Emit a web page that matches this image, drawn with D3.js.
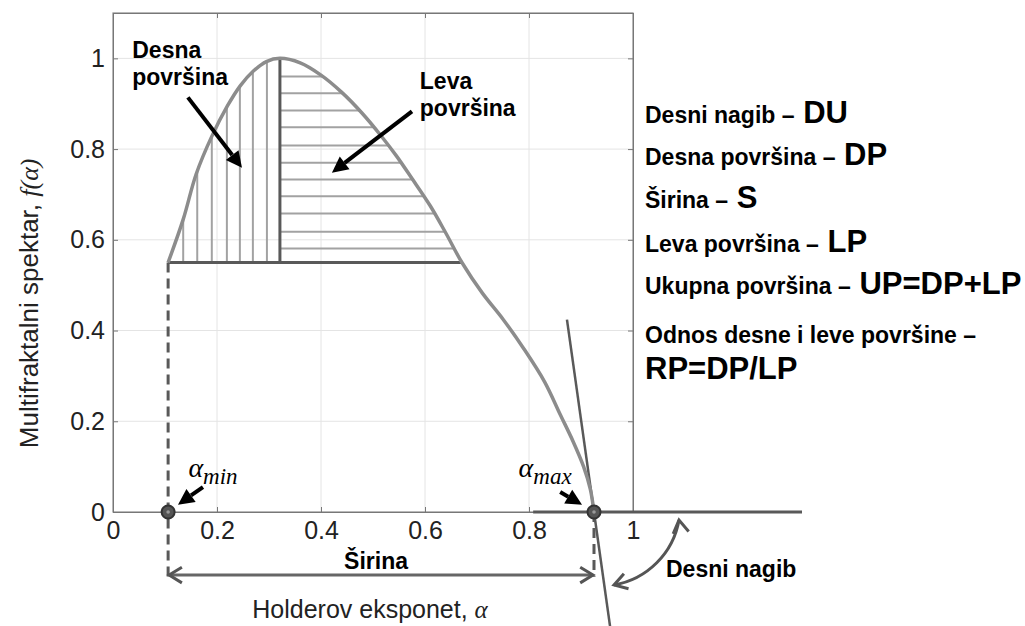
<!DOCTYPE html>
<html>
<head>
<meta charset="utf-8">
<script src="https://cdn.jsdelivr.net/npm/d3@7"></script>
<style>
  body { margin: 0; background: #fff; }
  text { font-family: 'Liberation Sans', Arial, sans-serif; }
</style>
</head>
<body>
<div id="vis"></div>
<script>
// multifractal spectrum f(alpha)
const alphaVals = [0.106, 0.135, 0.16, 0.19, 0.22, 0.245, 0.27, 0.295, 0.321,
  0.36, 0.40, 0.44, 0.48, 0.515, 0.545, 0.575, 0.61, 0.64, 0.671,
  0.71, 0.75, 0.79, 0.83, 0.86, 0.885, 0.905, 0.918, 0.925]
const fVals = [0.55, 0.645, 0.745, 0.828, 0.895, 0.94, 0.972, 0.993, 1.0,
  0.99, 0.963, 0.925, 0.878, 0.83, 0.785, 0.735, 0.675, 0.615, 0.55,
  0.483, 0.425, 0.36, 0.287, 0.215, 0.155, 0.1, 0.05, 0.0]

// key points of the spectrum
const alphaMin = 0.106
const alphaPeak = 0.321
const alphaMax = 0.925
const fBase = 0.55

// hatching of the two areas
const vHatchAlpha = [0.135, 0.162, 0.19, 0.219, 0.244, 0.269, 0.296]
const hHatchF = [0.96, 0.923, 0.885, 0.848, 0.808, 0.77, 0.733, 0.696, 0.658, 0.618, 0.581]

// axes
const xTicks = [0, 0.2, 0.4, 0.6, 0.8, 1]
const yTicks = [0, 0.2, 0.4, 0.6, 0.8, 1]

// right hand legend
const legendNames = ['Desni nagib', 'Desna površina', 'Širina', 'Leva površina', 'Ukupna površina', 'Odnos desne i leve površine']
const legendCodes = ['DU', 'DP', 'S', 'LP', 'UP=DP+LP', 'RP=DP/LP']

const W = 1025, H = 626
const x = d3.scaleLinear().domain([0, 1]).range([113, 633])
const y = d3.scaleLinear().domain([0, 1.1]).range([512, 13])

const svg = d3.select('#vis').append('svg').attr('width', W).attr('height', H)

// grid
const grid = svg.append('g').attr('stroke', '#e4e4e4').attr('stroke-width', 1)
grid.selectAll('.gx').data(xTicks.slice(1, -1)).enter().append('line')
  .attr('x1', d => x(d)).attr('x2', d => x(d)).attr('y1', y(0)).attr('y2', y(1.1))
grid.selectAll('.gy').data(yTicks.slice(1)).enter().append('line')
  .attr('x1', x(0)).attr('x2', x(1)).attr('y1', d => y(d)).attr('y2', d => y(d))

// box and axes
svg.append('rect').attr('x', x(0)).attr('y', y(1.1)).attr('width', x(1) - x(0)).attr('height', y(0) - y(1.1))
  .attr('fill', 'none').attr('stroke', '#8a8a8a').attr('stroke-width', 1.2)

const fmt = d3.format('~g')
svg.append('g').attr('transform', 'translate(0,' + y(0) + ')')
  .call(d3.axisBottom(x).tickValues(xTicks).tickFormat(fmt).tickSizeInner(-5).tickSizeOuter(0).tickPadding(9))
svg.append('g').attr('transform', 'translate(' + x(0) + ',0)')
  .call(d3.axisLeft(y).tickValues(yTicks).tickFormat(fmt).tickSizeInner(-5).tickSizeOuter(0).tickPadding(8))
svg.append('g').attr('transform', 'translate(' + x(1) + ',0)')
  .call(d3.axisRight(y).tickValues(yTicks).tickFormat('').tickSizeInner(-5).tickSizeOuter(0))
svg.append('g').attr('transform', 'translate(0,' + y(1.1) + ')')
  .call(d3.axisTop(x).tickValues(xTicks).tickFormat('').tickSizeInner(-5).tickSizeOuter(0))
svg.selectAll('.domain').attr('stroke', '#777')
svg.selectAll('.tick line').attr('stroke', '#777')
svg.selectAll('.tick text').style('font-size', '25px').attr('fill', '#222')
  .style('font-family', "'Liberation Sans', Arial, sans-serif")

// axis titles
const xTitle = svg.append('text').attr('x', 370).attr('y', 618)
  .attr('text-anchor', 'middle').style('font-size', '25px').attr('fill', '#222')
xTitle.append('tspan').text('Holderov eksponet, ')
xTitle.append('tspan').text('α').style('font-family', "'Liberation Serif', serif").style('font-style', 'italic')

const yTitle = svg.append('text').attr('transform', 'translate(38,' + y(0.46) + ')rotate(-90)')
  .attr('text-anchor', 'middle').style('font-size', '26px').attr('fill', '#222')
yTitle.append('tspan').text('Multifraktalni spektar, ')
yTitle.append('tspan').text('f(α)').style('font-family', "'Liberation Serif', serif").style('font-style', 'italic')

// hatching
const leftN = alphaVals.indexOf(alphaPeak) + 1
const leftCurve = d3.scaleLinear().domain(alphaVals.slice(0, leftN)).range(fVals.slice(0, leftN))
const rightCurve = d3.scaleLinear().domain(fVals.slice(leftN - 1)).range(alphaVals.slice(leftN - 1))

svg.append('g').attr('stroke', '#a2a2a2').attr('stroke-width', 2)
  .selectAll('line').data(vHatchAlpha).enter().append('line')
  .attr('x1', d => x(d)).attr('x2', d => x(d))
  .attr('y1', y(fBase)).attr('y2', d => y(leftCurve(d)))
svg.append('g').attr('stroke', '#a2a2a2').attr('stroke-width', 2)
  .selectAll('line').data(hHatchF).enter().append('line')
  .attr('x1', x(alphaPeak)).attr('x2', d => x(rightCurve(d)))
  .attr('y1', d => y(d)).attr('y2', d => y(d))

// peak divider and base of the areas
svg.append('line').attr('x1', x(alphaPeak)).attr('x2', x(alphaPeak)).attr('y1', y(fBase)).attr('y2', y(1))
  .attr('stroke', '#595959').attr('stroke-width', 3)
svg.append('line').attr('x1', x(alphaMin)).attr('x2', x(rightCurve(fBase))).attr('y1', y(fBase)).attr('y2', y(fBase))
  .attr('stroke', '#595959').attr('stroke-width', 3)

// dashed guides and width arrow
const yLow = y(-0.143)
svg.append('line').attr('x1', x(alphaMin)).attr('x2', x(alphaMin)).attr('y1', y(fBase)).attr('y2', yLow)
  .attr('stroke', '#595959').attr('stroke-width', 3).attr('stroke-dasharray', '10,6')
svg.append('line').attr('x1', x(alphaMax)).attr('x2', x(alphaMax)).attr('y1', y(0)).attr('y2', yLow)
  .attr('stroke', '#595959').attr('stroke-width', 3).attr('stroke-dasharray', '10,6')

const yW = y(-0.139)
svg.append('line').attr('x1', x(alphaMin) + 1).attr('x2', x(alphaMax) - 1).attr('y1', yW).attr('y2', yW)
  .attr('stroke', '#666').attr('stroke-width', 3)
function chevron(px, py, ang) {
  // open arrow head with its tip at (px,py), pointing in direction ang
  const L = 15, s = 0.55
  const p1 = [px - L * Math.cos(ang - s), py - L * Math.sin(ang - s)]
  const p2 = [px - L * Math.cos(ang + s), py - L * Math.sin(ang + s)]
  svg.append('path').attr('d', 'M' + p1 + 'L' + [px, py] + 'L' + p2)
    .attr('fill', 'none').attr('stroke', '#555').attr('stroke-width', 3)
}
chevron(x(alphaMin) + 1, yW, Math.PI)
chevron(x(alphaMax) - 1, yW, 0)
svg.append('text').attr('x', (x(alphaMin) + x(alphaMax)) / 2 - 5).attr('y', 569)
  .attr('text-anchor', 'middle').style('font-size', '23px').style('font-weight', 'bold').text('Širina')

// zero line and tangent at alpha max
svg.append('line').attr('x1', x(0.808)).attr('x2', x(1.325)).attr('y1', y(0)).attr('y2', y(0))
  .attr('stroke', '#595959').attr('stroke-width', 3)
const slope = -0.1226 // dalpha / df of the tangent
svg.append('line')
  .attr('x1', x(alphaMax + slope * 0.424)).attr('y1', y(0.424))
  .attr('x2', x(alphaMax + slope * -0.26)).attr('y2', y(-0.26))
  .attr('stroke', '#595959').attr('stroke-width', 2.5)

// spectrum curve
const line = d3.line().x(d => x(d)).y((d, i) => y(fVals[i])).curve(d3.curveCatmullRom.alpha(0.5))
svg.append('path').datum(alphaVals).attr('d', line)
  .attr('fill', 'none').attr('stroke', '#8c8c8c').attr('stroke-width', 3.5)

// end points
;[alphaMin, alphaMax].forEach(a => {
  svg.append('circle').attr('cx', x(a)).attr('cy', y(0)).attr('r', 6.5)
    .attr('fill', '#555').attr('stroke', '#333').attr('stroke-width', 2)
  svg.append('circle').attr('cx', x(a)).attr('cy', y(0)).attr('r', 1.8).attr('fill', '#999')
})

// black pointer arrows
function arrow(a0, f0, a1, f1) {
  const x0 = x(a0), y0 = y(f0), x1 = x(a1), y1 = y(f1)
  const ang = Math.atan2(y1 - y0, x1 - x0)
  const L = 16, Wd = 8
  const bx = x1 - L * Math.cos(ang), by = y1 - L * Math.sin(ang)
  svg.append('line').attr('x1', x0).attr('y1', y0).attr('x2', bx).attr('y2', by)
    .attr('stroke', '#000').attr('stroke-width', 4)
  svg.append('path').attr('d', 'M' + [x1, y1] +
    'L' + [bx + Wd * Math.sin(ang), by - Wd * Math.cos(ang)] +
    'L' + [bx - Wd * Math.sin(ang), by + Wd * Math.cos(ang)] + 'Z').attr('fill', '#000')
}
arrow(0.144, 0.914, 0.248, 0.759)
arrow(0.575, 0.883, 0.421, 0.748)
arrow(0.173, 0.055, 0.125, 0.016)
arrow(0.860, 0.044, 0.902, 0.016)

// area labels
function label(px, py, lines) {
  const t = svg.append('text').attr('x', px).attr('y', py).style('font-size', '23px').style('font-weight', 'bold')
  lines.forEach((s, i) => t.append('tspan').attr('x', px).attr('dy', i ? 27 : 0).text(s))
}
label(x(0.037), y(1.0), ['Desna', 'površina'])
label(x(0.59), y(0.932), ['Leva', 'površina'])

// alpha min / max
function alphaLabel(a, sub) {
  const t = svg.append('text').attr('x', x(a)).attr('y', 477)
    .style('font-family', "'Liberation Serif', serif").style('font-style', 'italic').style('font-size', '28px')
  t.append('tspan').text('α')
  t.append('tspan').attr('dy', 7).style('font-size', '23px').text(sub)
}
alphaLabel(0.145, 'min')
alphaLabel(0.78, 'max')

// right slope arc
const cx = x(alphaMax), cy = y(0)
const pA = [cx + 85, cy + 8], pB = [cx + 20, cy + 73]
svg.append('path').attr('d', 'M' + pA + 'A80,80 0 0,1 ' + pB)
  .attr('fill', 'none').attr('stroke', '#555').attr('stroke-width', 3)
chevron(pA[0], pA[1], -Math.PI / 2 - 0.15)
chevron(pB[0], pB[1], Math.PI - 0.3)
svg.append('text').attr('x', 666).attr('y', 577).style('font-size', '23px').style('font-weight', 'bold').text('Desni nagib')

// legend on the right
const baselines = [123, 165, 208, 252, 294, 343]
legendNames.forEach((name, i) => {
  const t = svg.append('text').attr('x', 645).attr('y', baselines[i]).attr('fill', '#000')
  t.append('tspan').style('font-size', '23px').style('font-weight', 'bold').text(name + ' –')
  if (i < legendNames.length - 1) {
    t.append('tspan').style('font-size', '31px').style('font-weight', 'bold').text(' ' + legendCodes[i])
  } else {
    svg.append('text').attr('x', 645).attr('y', baselines[i] + 36).style('font-size', '31px')
      .style('font-weight', 'bold').text(legendCodes[i])
  }
})
</script>
</body>
</html>
